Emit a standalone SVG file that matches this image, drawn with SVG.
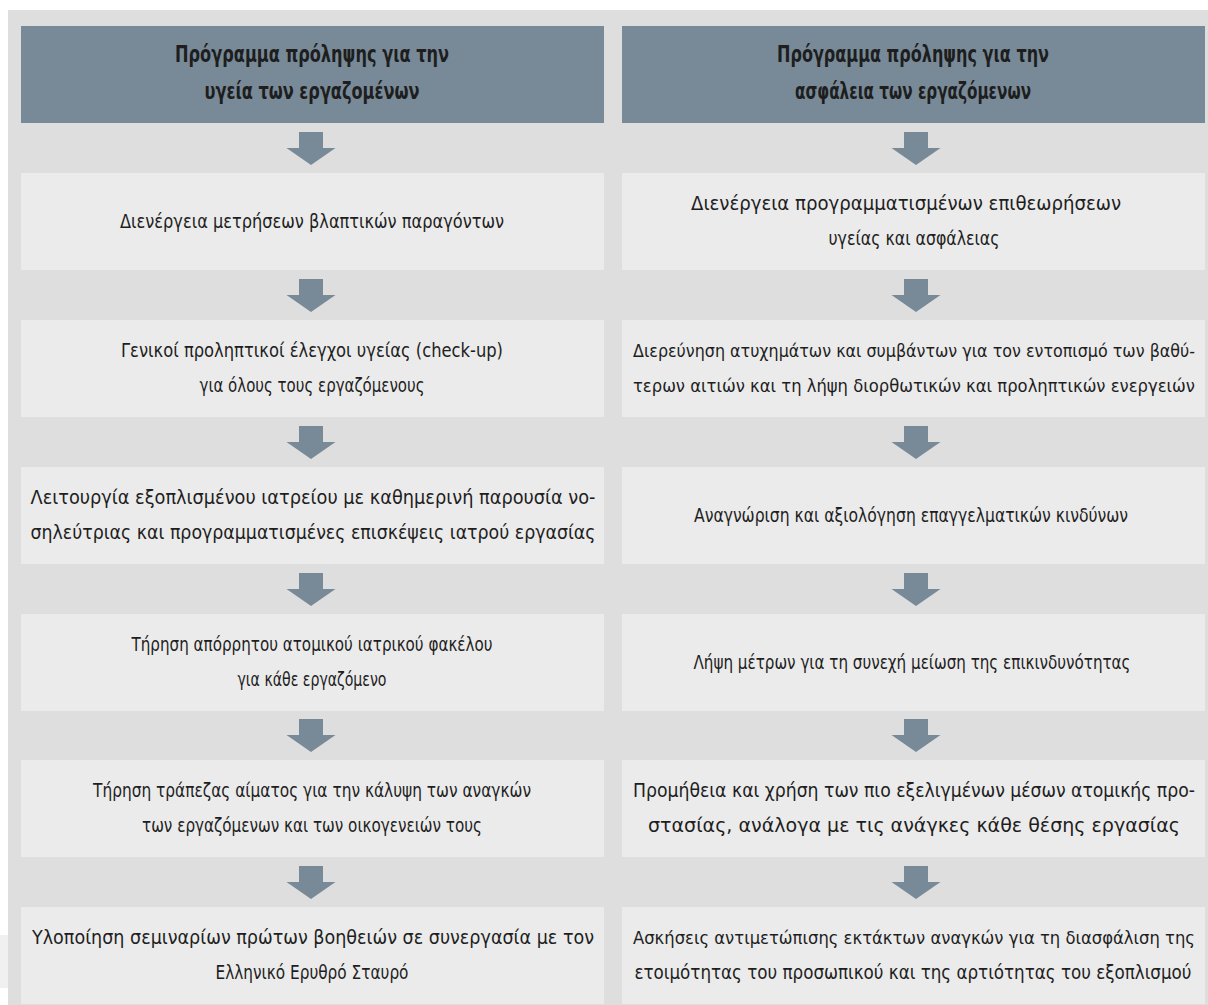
<svg xmlns="http://www.w3.org/2000/svg" xmlns:xlink="http://www.w3.org/1999/xlink" width="1208" height="1005" viewBox="0 0 1208 1005">
<style>
.bg{fill:#dedede}
.hd{fill:#788a98}
.bx{fill:#ebebeb}
.ar{fill:#788a98}
text{font-family:'DejaVu Sans Condensed','Liberation Sans',Arial,sans-serif;fill:#1e1e1e;text-anchor:middle}
.h{font-size:23px;font-weight:bold}
.t{font-size:19px}
.s{font-size:18px}
</style>
<defs>
<path id="arrow" class="ar" d="M-12,0 H12 V16 H24.5 L0,33 L-24.5,16 H-12 Z"/>
</defs>
<rect x="0" y="0" width="1208" height="1005" fill="#ffffff"/>
<rect class="bg" x="8" y="10" width="1200" height="995"/>
<rect x="0" y="935" width="8" height="53" fill="#f0f0f0"/>

<g id="left-header"><rect class="hd" x="21" y="26" width="583" height="97"/>
<text class="h" x="312" y="62" textLength="274" lengthAdjust="spacingAndGlyphs">Πρόγραμμα πρόληψης για την</text>
<text class="h" x="312" y="99" textLength="215" lengthAdjust="spacingAndGlyphs">υγεία των εργαζομένων</text></g>
<g id="left-1"><rect class="bx" x="21" y="173" width="583" height="97"/>
<text class="t" x="312" y="228" textLength="384" lengthAdjust="spacingAndGlyphs">Διενέργεια μετρήσεων βλαπτικών παραγόντων</text></g>
<g id="left-2"><rect class="bx" x="21" y="320" width="583" height="97"/>
<text class="t" x="312" y="357" textLength="382" lengthAdjust="spacingAndGlyphs">Γενικοί προληπτικοί έλεγχοι υγείας (check-up)</text>
<text class="t" x="312" y="392" textLength="225" lengthAdjust="spacingAndGlyphs">για όλους τους εργαζόμενους</text></g>
<g id="left-3"><rect class="bx" x="21" y="467" width="583" height="97"/>
<text class="t" x="313" y="504" textLength="565" lengthAdjust="spacingAndGlyphs">Λειτουργία εξοπλισμένου ιατρείου με καθημερινή παρουσία νο-</text>
<text class="t" x="313" y="539" textLength="565" lengthAdjust="spacingAndGlyphs">σηλεύτριας και προγραμματισμένες επισκέψεις ιατρού εργασίας</text></g>
<g id="left-4"><rect class="bx" x="21" y="614" width="583" height="97"/>
<text class="t" x="312" y="651" textLength="361" lengthAdjust="spacingAndGlyphs">Τήρηση απόρρητου ατομικού ιατρικού φακέλου</text>
<text class="t" x="312" y="686" textLength="149" lengthAdjust="spacingAndGlyphs">για κάθε εργαζόμενο</text></g>
<g id="left-5"><rect class="bx" x="21" y="760" width="583" height="97"/>
<text class="t" x="312" y="797" textLength="438" lengthAdjust="spacingAndGlyphs">Τήρηση τράπεζας αίματος για την κάλυψη των αναγκών</text>
<text class="t" x="312" y="832" textLength="340" lengthAdjust="spacingAndGlyphs">των εργαζόμενων και των οικογενειών τους</text></g>
<g id="left-6"><rect class="bx" x="21" y="907" width="583" height="97"/>
<text class="t" x="313" y="944" textLength="562" lengthAdjust="spacingAndGlyphs">Υλοποίηση σεμιναρίων πρώτων βοηθειών σε συνεργασία με τον</text>
<text class="t" x="312" y="979" textLength="193" lengthAdjust="spacingAndGlyphs">Ελληνικό Ερυθρό Σταυρό</text></g>

<g id="right-header"><rect class="hd" x="622" y="26" width="583" height="97"/>
<text class="h" x="913" y="62" textLength="272" lengthAdjust="spacingAndGlyphs">Πρόγραμμα πρόληψης για την</text>
<text class="h" x="913" y="99" textLength="236" lengthAdjust="spacingAndGlyphs">ασφάλεια των εργαζόμενων</text></g>
<g id="right-1"><rect class="bx" x="622" y="173" width="583" height="97"/>
<text class="t" x="906" y="210" textLength="430" lengthAdjust="spacingAndGlyphs">Διενέργεια προγραμματισμένων επιθεωρήσεων</text>
<text class="t" x="914" y="245" textLength="171" lengthAdjust="spacingAndGlyphs">υγείας και ασφάλειας</text></g>
<g id="right-2"><rect class="bx" x="622" y="320" width="583" height="97"/>
<text class="s" x="914" y="357" textLength="562" lengthAdjust="spacingAndGlyphs">Διερεύνηση ατυχημάτων και συμβάντων για τον εντοπισμό των βαθύ-</text>
<text class="s" x="914" y="392" textLength="562" lengthAdjust="spacingAndGlyphs">τερων αιτιών και τη λήψη διορθωτικών και προληπτικών ενεργειών</text></g>
<g id="right-3"><rect class="bx" x="622" y="467" width="583" height="97"/>
<text class="t" x="911" y="522" textLength="434" lengthAdjust="spacingAndGlyphs">Αναγνώριση και αξιολόγηση επαγγελματικών κινδύνων</text></g>
<g id="right-4"><rect class="bx" x="622" y="614" width="583" height="97"/>
<text class="t" x="912" y="669" textLength="437" lengthAdjust="spacingAndGlyphs">Λήψη μέτρων για τη συνεχή μείωση της επικινδυνότητας</text></g>
<g id="right-5"><rect class="bx" x="622" y="760" width="583" height="97"/>
<text class="t" x="914" y="797" textLength="562" lengthAdjust="spacingAndGlyphs">Προμήθεια και χρήση των πιο εξελιγμένων μέσων ατομικής προ-</text>
<text class="t" x="914" y="832" textLength="532" lengthAdjust="spacingAndGlyphs">στασίας, ανάλογα με τις ανάγκες κάθε θέσης εργασίας</text></g>
<g id="right-6"><rect class="bx" x="622" y="907" width="583" height="97"/>
<text class="s" x="914" y="944" textLength="562" lengthAdjust="spacingAndGlyphs">Ασκήσεις αντιμετώπισης εκτάκτων αναγκών για τη διασφάλιση της</text>
<text class="t" x="913" y="979" textLength="557" lengthAdjust="spacingAndGlyphs">ετοιμότητας του προσωπικού και της αρτιότητας του εξοπλισμού</text></g>

<g id="connectors">
<use href="#arrow" x="311" y="132"/>
<use href="#arrow" x="311" y="279"/>
<use href="#arrow" x="311" y="426"/>
<use href="#arrow" x="311" y="573"/>
<use href="#arrow" x="311" y="719"/>
<use href="#arrow" x="311" y="866"/>
<use href="#arrow" x="916" y="132"/>
<use href="#arrow" x="916" y="279"/>
<use href="#arrow" x="916" y="426"/>
<use href="#arrow" x="916" y="573"/>
<use href="#arrow" x="916" y="719"/>
<use href="#arrow" x="916" y="866"/>
</g>
</svg>
